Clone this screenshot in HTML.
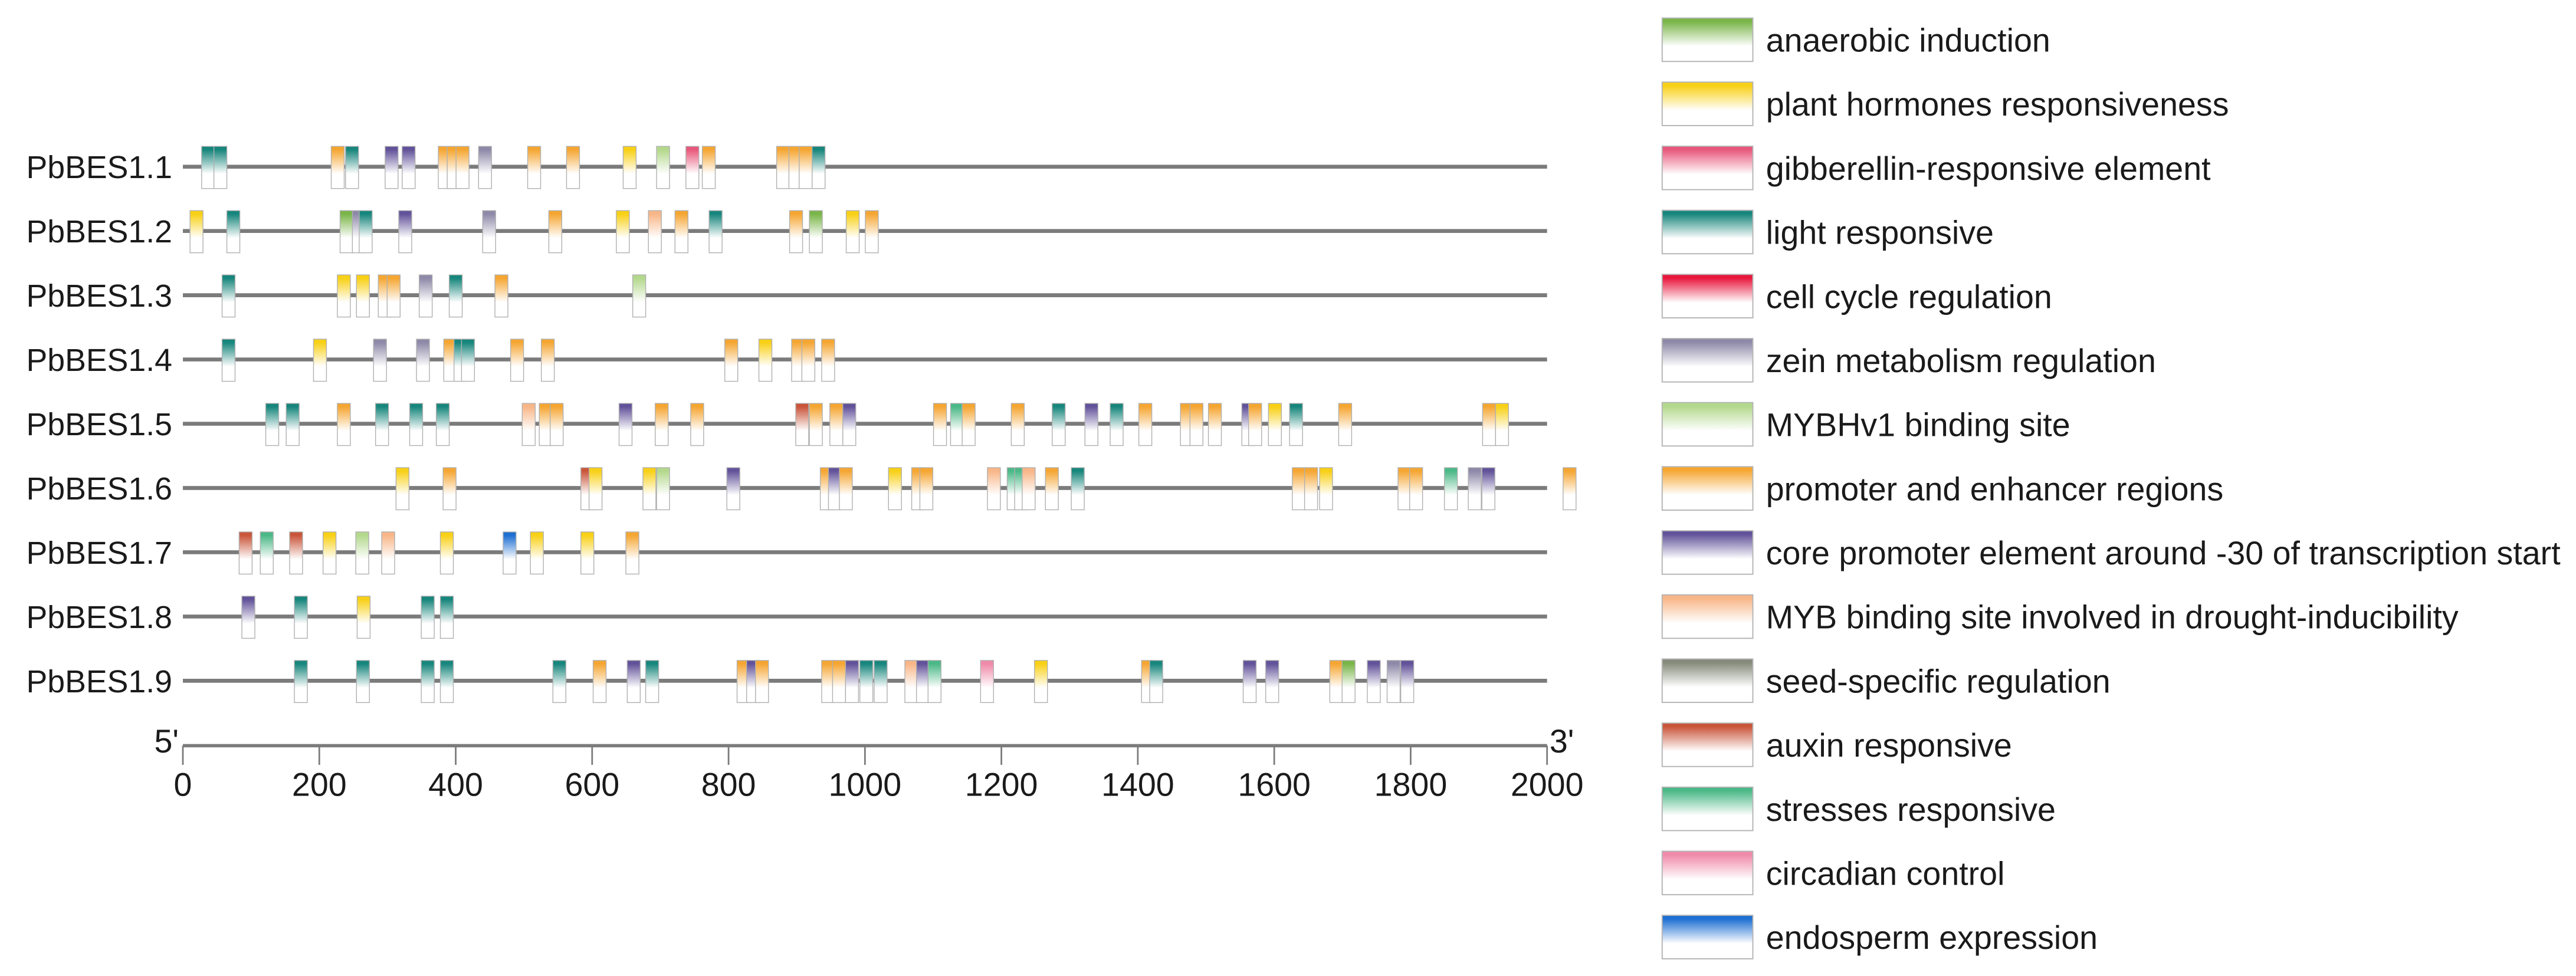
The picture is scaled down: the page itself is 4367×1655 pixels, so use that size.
<!DOCTYPE html>
<html><head><meta charset="utf-8"><style>
html,body{margin:0;padding:0;background:#fff;}
svg{display:block;}
text{font-family:"Liberation Sans",Arial,sans-serif;fill:#1a1a1a;}
</style></head><body>
<svg id="chart" width="4367" height="1655" viewBox="0 0 1571 595.4" xmlns="http://www.w3.org/2000/svg">
<defs id="defs"></defs>
<g id="rows"></g>
<g id="axis"></g>
<g id="legend"></g>
</svg>
<script>
const geneNames = ["PbBES1.1","PbBES1.2","PbBES1.3","PbBES1.4","PbBES1.5","PbBES1.6","PbBES1.7","PbBES1.8","PbBES1.9"];
const elementTypes = ["A","H","G","L","C","Z","M","P","K","D","S","X","T","R","E"];
const elementLabels = ["anaerobic induction","plant hormones responsiveness","gibberellin-responsive element","light responsive","cell cycle regulation","zein metabolism regulation","MYBHv1 binding site","promoter and enhancer regions","core promoter element around -30 of transcription start","MYB binding site involved in drought-inducibility","seed-specific regulation","auxin responsive","stresses responsive","circadian control","endosperm expression"];
const elementColors = ["#79b548","#f8d016","#e8587c","#17867c","#e8163c","#8e89a8","#b3d88c","#f5a632","#62529a","#f8b688","#858a7a","#c9553a","#4bb887","#f08aaa","#1d6fd2"];
const rowTypes = [
"L L P L K K P P P Z P P H M G P P P P L",
"H L A Z L K Z P H D P L P A H P",
"L H H P P Z L P M",
"L H Z Z P L L P P P H P P P",
"L L P L L L D P P K P P X P P K P T P P L K L P P P P K P H L P P H",
"H P X H H M K P K P H P P D T T D P L P P H P P T Z K P",
"X T X H M D H E H H P",
"K L H L L",
"L L L L L P K L P K P P P K L L D K T R H P L K K P A K Z K"
];
const rowPositions = [
[37,55,227,248,306,331,384,397,410,443,515,572,655,704,747,771,880,898,913,932],
[20,74,240,258,268,326,449,546,645,692,731,781,899,928,982,1010],
[67,236,264,296,309,356,400,467,669],
[67,201,289,352,392,407,418,490,535,804,854,902,917,946],
[131,161,236,292,342,381,507,532,548,649,702,754,908,928,958,977,1110,1135,1152,1224,1284,1332,1369,1411,1472,1486,1513,1562,1572,1601,1632,1704,1915,1934],
[322,391,593,605,684,704,807,944,956,972,1044,1078,1090,1189,1218,1229,1240,1274,1312,1636,1654,1676,1791,1808,1859,1894,1914,2033],
[92,123,166,215,263,301,387,479,519,593,659],
[96,173,265,359,387],
[173,264,359,387,552,611,661,688,822,836,849,946,962,981,1002,1023,1068,1085,1102,1179,1258,1415,1427,1564,1597,1691,1709,1746,1775,1795]
];
const tickValues = [0,200,400,600,800,1000,1200,1400,1600,1800,2000];
const seqLength = 2000;

const NS="http://www.w3.org/2000/svg";
const X0=111.5, X1=943.5, ROW0=101.7, ROWSTEP=39.2, BOXW=19;
function xs(v){return X0+(v/seqLength)*(X1-X0);}
function ys(i){return ROW0+i*ROWSTEP;}
function mk(tag,attrs,parent){const e=document.createElementNS(NS,tag);for(const k in attrs)e.setAttribute(k,attrs[k]);if(parent)parent.appendChild(e);return e;}

const defs=document.getElementById('defs');
elementTypes.forEach((t,i)=>{
  const g=mk('linearGradient',{id:'grad'+t,x1:0,y1:0,x2:0,y2:1},defs);
  mk('stop',{offset:'0',"stop-color":elementColors[i]},g);
  mk('stop',{offset:'0.08',"stop-color":elementColors[i]},g);
  mk('stop',{offset:'0.65',"stop-color":'#ffffff'},g);
  mk('stop',{offset:'1',"stop-color":'#ffffff'},g);
});

const rows=document.getElementById('rows');
geneNames.forEach((name,i)=>{
  const y=ys(i);
  const g=mk('g',{},rows);
  
  
  const lab=mk('text',{x:105,y:y+7,"text-anchor":"end","font-size":19.3},g);
  lab.textContent=name;
  
  
  const ln=mk('line',{x1:X0,x2:X1,y1:y,y2:y,stroke:'#7b7b7b',"stroke-width":2.4},g);
  
  
  const types=rowTypes[i].split(' ');
  rowPositions[i].forEach((p,j)=>{
    const w=BOXW/seqLength*(X1-X0);
    const r=mk('rect',{x:xs(p)-w/2,y:y-12.4,width:w,height:25.7,fill:'url(#grad'+types[j]+')',stroke:'#b0b0b0',"stroke-width":0.5},g);
    
    
  });
});

const axis=document.getElementById('axis');
const AY=454.9;
const al=mk('line',{x1:X0,x2:X1,y1:AY,y2:AY,stroke:'#7b7b7b',"stroke-width":2},axis);


tickValues.forEach(v=>{
  const t=mk('line',{x1:xs(v),x2:xs(v),y1:AY,y2:466.6,stroke:'#7b7b7b',"stroke-width":1},axis);
  
  
  const tl=mk('text',{x:xs(v),y:485.5,"text-anchor":"middle","font-size":20},axis);
  tl.textContent=v;
  
  
});
const p5=mk('text',{x:109,y:459,"text-anchor":"end","font-size":20},axis);p5.textContent="5'";


const p3=mk('text',{x:945,y:459,"text-anchor":"start","font-size":20},axis);p3.textContent="3'";



const legend=document.getElementById('legend');
elementLabels.forEach((lab,i)=>{
  const top=11+i*39.1;
  const g=mk('g',{},legend);
  
  
  const r=mk('rect',{x:1013.7,y:top,width:55.3,height:26.5,fill:'url(#grad'+elementTypes[i]+')',stroke:'#b5b5b5',"stroke-width":0.7},g);
  
  
  const t=mk('text',{x:1077,y:top+20.5,"font-size":20},g);
  t.textContent=lab;
  
  
});
</script>
</body></html>
